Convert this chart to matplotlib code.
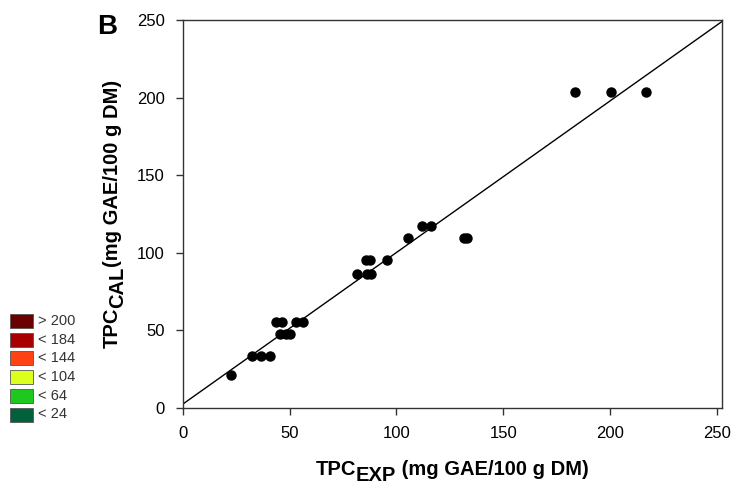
import numpy as np
import matplotlib
matplotlib.use("Agg")
import matplotlib.pyplot as plt
from matplotlib.patches import Rectangle

plt.rcParams['font.family'] = ['Liberation Sans', 'DejaVu Sans']

# experimental vs calculated TPC
tpc_exp = [22.3, 32.2, 36.4, 40.8, 45.5, 48.1, 50.1, 43.6, 46.5, 53.0, 56.4,
           81.7, 86.0, 88.0, 85.5, 87.5, 95.7, 105.6, 112.1, 116.1, 131.5, 133.2,
           183.7, 200.6, 217.0]
tpc_cal = [21.3, 33.5, 33.5, 33.5, 47.5, 47.5, 47.5, 55.3, 55.3, 55.3, 55.3,
           86.4, 86.4, 86.4, 95.4, 95.4, 95.4, 109.8, 117.3, 117.3, 109.8, 109.8,
           203.5, 203.5, 203.5]

# fitted line y = a + b*x
fit_a = 2.6
fit_b = 0.976

# colour scale legend left over from the surface panel
scale_labels = ['> 200', '< 184', '< 144', '< 104', '< 64', '< 24']
scale_colors = ['#6b0000', '#a80000', '#ff4214', '#ddff1c', '#1ec81e', '#03603c']

W, H = 748, 487
fig = plt.figure(figsize=(W / 100, H / 100), dpi=100)
ax = fig.add_axes([183 / W, 1 - 408 / H, (722 - 183) / W, (408 - 20) / H])

ax.plot(tpc_exp, tpc_cal, 'o', color='black', ms=6.5, zorder=3)
xl = np.array([0, 252.5])
ax.plot(xl, fit_a + fit_b * xl, color='black', lw=1.0, zorder=2)

ax.set_xlim(0, 252.5)
ax.set_ylim(0, 250)
ax.set_xticks([0, 50, 100, 150, 200, 250])
ax.set_yticks([0, 50, 100, 150, 200, 250])
ax.tick_params(direction='out', length=5, width=1, labelsize=12, color='#333333',
               top=False, right=False, pad=8)
for s in ax.spines.values():
    s.set_color('#333333')
    s.set_linewidth(1.0)

# axis titles with a large, lowered subscript, built piece by piece
renderer = fig.canvas.get_renderer()


def label_pieces(pieces, center, base, vertical=False):
    # center/base in pixels from the top-left corner
    widths = []
    for txt, size, drop in pieces:
        t = fig.text(0, 0, txt, fontsize=size, fontweight='bold')
        widths.append(t.get_window_extent(renderer).width)
        t.remove()
    total = sum(widths)
    pos = center + total / 2 if vertical else center - total / 2
    for (txt, size, drop), w in zip(pieces, widths):
        if vertical:
            fig.text((base + drop) / W, 1 - pos / H, txt, fontsize=size, fontweight='bold',
                     rotation=90, rotation_mode='anchor', ha='left', va='baseline')
            pos -= w
        else:
            fig.text(pos / W, 1 - (base + drop) / H, txt, fontsize=size, fontweight='bold',
                     ha='left', va='baseline')
            pos += w


label_pieces([('TPC', 14.5, 0), ('EXP', 14.5, 6), (' (mg GAE/100 g DM)', 14.5, 0)],
             center=452, base=475)
label_pieces([('TPC', 14.5, 0), ('CAL', 14.5, 5), ('(mg GAE/100 g DM)', 14.5, 0)],
             center=214, base=118, vertical=True)

fig.text(97 / W, 1 - 34 / H, 'B', fontsize=20, fontweight='bold')

# colour legend boxes
for i, (lab, c) in enumerate(zip(scale_labels, scale_colors)):
    top = 314 + i * 18.7
    fig.patches.append(Rectangle((10 / W, 1 - (top + 14) / H), 23 / W, 14 / H,
                                 transform=fig.transFigure, facecolor=c,
                                 edgecolor='#555555', lw=0.6))
    fig.text(38 / W, 1 - (top + 7) / H, lab, fontsize=10.5, color='#333333',
             va='center', ha='left')

fig.savefig('out.png', dpi=100)
